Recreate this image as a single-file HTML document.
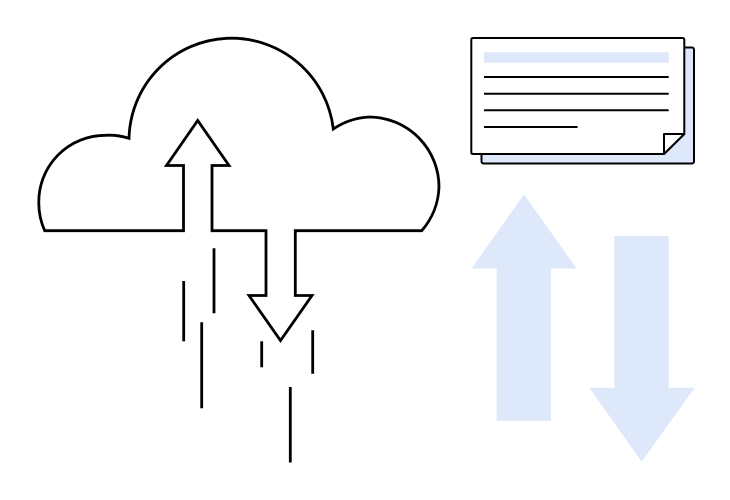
<!DOCTYPE html>
<html>
<head>
<meta charset="utf-8">
<style>
html,body{margin:0;padding:0;background:#fff;width:730px;height:500px;overflow:hidden}
svg{display:block}
</style>
</head>
<body>
<svg width="730" height="500" viewBox="0 0 730 500" xmlns="http://www.w3.org/2000/svg">
<rect width="730" height="500" fill="#fff"/>
<!-- Blue arrows -->
<polygon points="524,194.5 576.7,268.5 551,268.5 551,420.7 496.7,420.7 496.7,268.5 471.5,268.5" fill="#dee8fb"/>
<polygon points="614.3,236 668.7,236 668.7,387.7 694.7,387.7 641.7,461.7 589.3,387.7 614.3,387.7" fill="#dee8fb"/>
<!-- Document -->
<rect x="481.5" y="47.5" width="212.5" height="116" rx="2" fill="#dee8fb" stroke="#000" stroke-width="2"/>
<path d="M473 38 H682.5 Q684.3 38 684.3 40 V134 L664 154 H473 Q471.3 154 471.3 152 V40 Q471.3 38 473 38 Z" fill="#fff" stroke="#000" stroke-width="2" stroke-linejoin="round"/>
<path d="M664 154 V134 H684.3 Z" fill="#fff" stroke="#000" stroke-width="2" stroke-linejoin="round"/>
<rect x="484" y="52.3" width="184.7" height="10.4" fill="#dee8fb"/>
<g stroke="#000" stroke-width="2" fill="none">
<line x1="484" y1="77" x2="668.7" y2="77"/>
<line x1="484" y1="93.7" x2="668.7" y2="93.7"/>
<line x1="484" y1="110.3" x2="668.7" y2="110.3"/>
<line x1="484" y1="127" x2="577.6" y2="127"/>
</g>
<!-- Cloud with arrows -->
<path d="M183.5 230.7 H44.7 A67 67 0 0 1 38.8 203 A66.5 66.5 0 0 1 105 135.3 A66.5 66.5 0 0 1 129 138.3 A102.5 102.5 0 0 1 333.3 129 A70 70 0 0 1 370 117 A70 70 0 0 1 439 187 A70 70 0 0 1 421.7 230.7 H295.3 V295.5 H312 L280.5 340.5 L249 295.5 H266 V230.7 H212 V165.5 H229 L197.7 120.5 L166.5 165.5 H183.5 Z" fill="#fff" stroke="#000" stroke-width="2.8" stroke-linejoin="miter"/>
<!-- Streak lines -->
<g stroke="#000" stroke-width="2.8" fill="none">
<line x1="183.7" y1="281" x2="183.7" y2="341.3"/>
<line x1="214" y1="248.3" x2="214" y2="313.3"/>
<line x1="201.7" y1="322.3" x2="201.7" y2="408.3"/>
<line x1="261.7" y1="341.3" x2="261.7" y2="367.3"/>
<line x1="312.7" y1="330.3" x2="312.7" y2="373.7"/>
<line x1="290.3" y1="387" x2="290.3" y2="462.5"/>
</g>
</svg>
</body>
</html>
